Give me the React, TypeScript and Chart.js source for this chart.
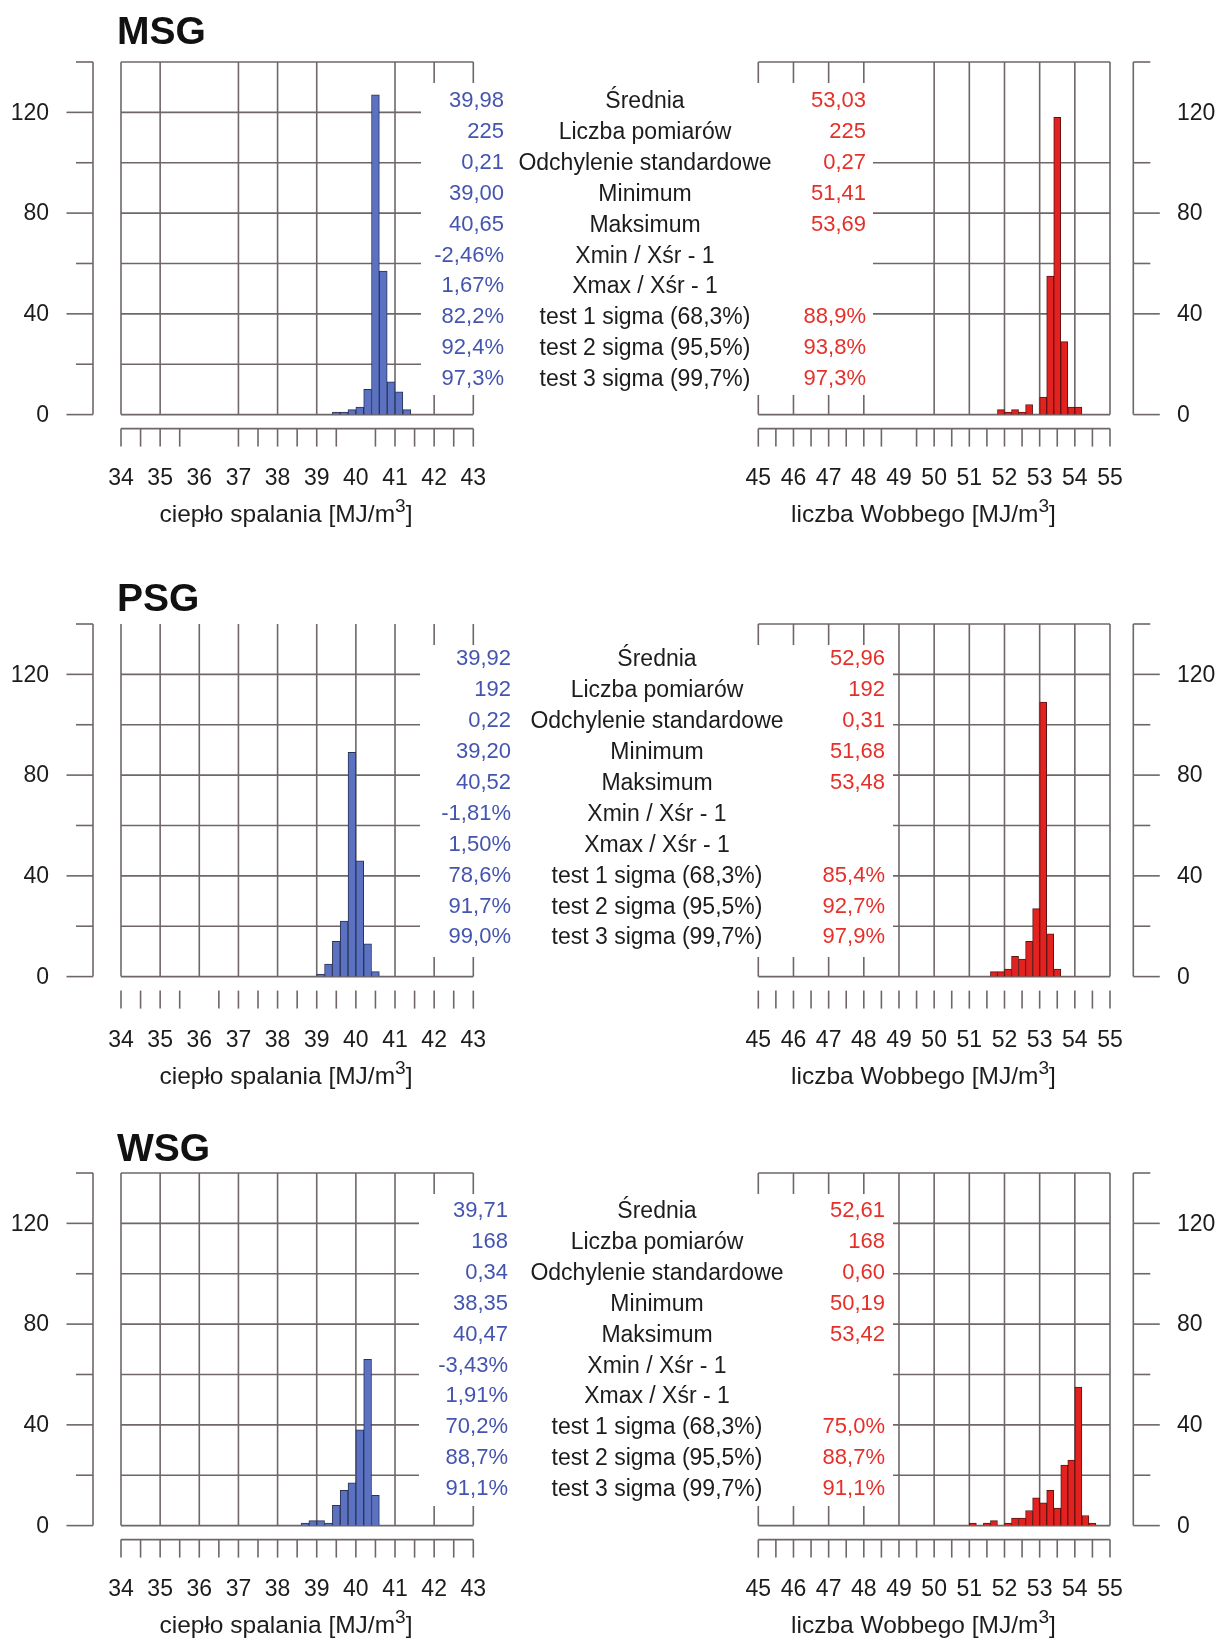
import React, { useEffect, useRef } from 'react';
import { Chart, registerables } from 'chart.js';

Chart.register(...registerables);

const FONT = '"Liberation Sans", Arial, Helvetica, sans-serif';

// ---------- data ----------
const heatTicks = [34, 35, 36, 37, 38, 39, 40, 41, 42, 43];
const wobbeTicks = [45, 46, 47, 48, 49, 50, 51, 52, 53, 54, 55];
const yGridValues = [0, 20, 40, 60, 80, 100, 120, 140];
const yTickLabels = [0, 40, 80, 120];

const msgHeatBins = [39.5, 39.7, 39.9, 40.1, 40.3, 40.5, 40.7, 40.9, 41.1, 41.3];
const msgHeatCounts = [1, 1, 2, 3, 10, 127, 57, 13, 9, 2];
const msgWobbeBins = [51.9, 52.1, 52.3, 52.5, 52.7, 52.9, 53.1, 53.3, 53.5, 53.7, 53.9, 54.1];
const msgWobbeCounts = [2, 1, 2, 1, 4, 0, 7, 55, 118, 29, 3, 3];

const psgHeatBins = [39.1, 39.3, 39.5, 39.7, 39.9, 40.1, 40.3, 40.5];
const psgHeatCounts = [1, 5, 14, 22, 89, 46, 13, 2];
const psgWobbeBins = [51.7, 51.9, 52.1, 52.3, 52.5, 52.7, 52.9, 53.1, 53.3, 53.5];
const psgWobbeCounts = [2, 2, 3, 8, 7, 14, 27, 109, 17, 3];

const wsgHeatBins = [38.7, 38.9, 39.1, 39.3, 39.5, 39.7, 39.9, 40.1, 40.3, 40.5];
const wsgHeatCounts = [1, 2, 2, 1, 8, 14, 17, 38, 66, 12];
const wsgWobbeBins = [51.1, 51.3, 51.5, 51.7, 51.9, 52.1, 52.3, 52.5, 52.7, 52.9, 53.1, 53.3, 53.5, 53.7, 53.9, 54.1, 54.3, 54.5];
const wsgWobbeCounts = [1, 0, 1, 2, 0, 1, 3, 3, 6, 11, 9, 14, 7, 24, 26, 55, 4, 1];

const statLabels = [
  'Średnia',
  'Liczba pomiarów',
  'Odchylenie standardowe',
  'Minimum',
  'Maksimum',
  'Xmin / Xśr - 1',
  'Xmax / Xśr - 1',
  'test 1 sigma (68,3%)',
  'test 2 sigma (95,5%)',
  'test 3 sigma (99,7%)',
];
const msgHeatStats = ['39,98', '225', '0,21', '39,00', '40,65', '-2,46%', '1,67%', '82,2%', '92,4%', '97,3%'];
const msgWobbeStats = ['53,03', '225', '0,27', '51,41', '53,69', '', '', '88,9%', '93,8%', '97,3%'];
const psgHeatStats = ['39,92', '192', '0,22', '39,20', '40,52', '-1,81%', '1,50%', '78,6%', '91,7%', '99,0%'];
const psgWobbeStats = ['52,96', '192', '0,31', '51,68', '53,48', '', '', '85,4%', '92,7%', '97,9%'];
const wsgHeatStats = ['39,71', '168', '0,34', '38,35', '40,47', '-3,43%', '1,91%', '70,2%', '88,7%', '91,1%'];
const wsgWobbeStats = ['52,61', '168', '0,60', '50,19', '53,42', '', '', '75,0%', '88,7%', '91,1%'];

const groupNames = ['MSG', 'PSG', 'WSG'];
const heatTitle = 'ciepło spalania [MJ/m';
const wobbeTitle = 'liczba Wobbego [MJ/m';

// ---------- styles / layout ----------
const GRID = '#6f6767';
const TEXT = '#1c1c1c';
const BLUE_FILL = '#5b72c3';
const BLUE_EDGE = '#2d3352';
const RED_FILL = '#e3211f';
const RED_EDGE = '#5e1414';
const BLUE_TEXT = '#4455b0';
const RED_TEXT = '#e5302a';

const BOX_H = 352.6;
const rows = [
  { titleY: 31, boxTop: 61.7, statY: 100, blueR: 504, labC: 645, redR: 866, coverL: 421, coverR: 873 },
  { titleY: 598, boxTop: 623.5, statY: 658.3, blueR: 511, labC: 657, redR: 885, coverL: 420, coverR: 893 },
  { titleY: 1148, boxTop: 1172.7, statY: 1210, blueR: 508, labC: 657, redR: 885, coverL: 419, coverR: 893 },
];

type Spec = {
  side: 'left' | 'right';
  row: number;
  ticks: number[];
  bins: number[];
  counts: number[];
  fill: string;
  edge: string;
  hideV: number[];
  hideXTick: number[];
  hideH: number[];
  noTop: boolean;
  noXLine: boolean;
};

const specs: Spec[] = [
  { side: 'left', row: 0, ticks: heatTicks, bins: msgHeatBins, counts: msgHeatCounts, fill: BLUE_FILL, edge: BLUE_EDGE, hideV: [36, 40], hideXTick: [36, 36.5, 40], hideH: [], noTop: false, noXLine: false },
  { side: 'right', row: 0, ticks: wobbeTicks, bins: msgWobbeBins, counts: msgWobbeCounts, fill: RED_FILL, edge: RED_EDGE, hideV: [49], hideXTick: [49], hideH: [20, 120], noTop: false, noXLine: false },
  { side: 'left', row: 1, ticks: heatTicks, bins: psgHeatBins, counts: psgHeatCounts, fill: BLUE_FILL, edge: BLUE_EDGE, hideV: [], hideXTick: [36], hideH: [], noTop: true, noXLine: true },
  { side: 'right', row: 1, ticks: wobbeTicks, bins: psgWobbeBins, counts: psgWobbeCounts, fill: RED_FILL, edge: RED_EDGE, hideV: [], hideXTick: [], hideH: [], noTop: false, noXLine: true },
  { side: 'left', row: 2, ticks: heatTicks, bins: wsgHeatBins, counts: wsgHeatCounts, fill: BLUE_FILL, edge: BLUE_EDGE, hideV: [], hideXTick: [], hideH: [], noTop: false, noXLine: false },
  { side: 'right', row: 2, ticks: wobbeTicks, bins: wsgWobbeBins, counts: wsgWobbeCounts, fill: RED_FILL, edge: RED_EDGE, hideV: [], hideXTick: [], hideH: [], noTop: false, noXLine: false },
];

function makeFrame(spec: Spec) {
  return {
    id: 'frame',
    beforeDatasetsDraw(chart: any) {
      const { ctx, chartArea: a, scales } = chart;
      const xs = scales.x;
      const ys = scales.y;
      const line = (x1: number, y1: number, x2: number, y2: number) => {
        ctx.beginPath();
        ctx.moveTo(x1, y1);
        ctx.lineTo(x2, y2);
        ctx.stroke();
      };
      ctx.save();
      ctx.strokeStyle = GRID;
      ctx.lineWidth = 1.6;
      const yTop = ys.getPixelForValue(140);
      const yBot = ys.getPixelForValue(0);
      const xFirst = xs.getPixelForValue(spec.ticks[0]);
      const xLast = xs.getPixelForValue(spec.ticks[spec.ticks.length - 1]);
      // vertical grid
      spec.ticks.forEach((v) => {
        if (spec.hideV.includes(v)) return;
        const px = xs.getPixelForValue(v);
        line(px, yTop, px, yBot);
      });
      // horizontal grid
      yGridValues.forEach((v) => {
        if (spec.hideH.includes(v)) return;
        if (v === 140 && spec.noTop) return;
        const py = ys.getPixelForValue(v);
        line(xFirst, py, xLast, py);
      });
      // offset y axis
      const isLeft = spec.side === 'left';
      const axX = isLeft ? xFirst - 28 : xLast + 23.3;
      const dir = isLeft ? -1 : 1;
      line(axX, yTop, axX, yBot);
      yGridValues.forEach((v) => {
        if (spec.hideH.includes(v)) return;
        const len = yTickLabels.includes(v) ? 26.5 : 17;
        const py = ys.getPixelForValue(v);
        line(axX, py, axX + dir * len, py);
      });
      ctx.fillStyle = TEXT;
      ctx.font = `23px ${FONT}`;
      ctx.textBaseline = 'middle';
      ctx.textAlign = isLeft ? 'right' : 'left';
      const lx = isLeft ? xFirst - 72 : xLast + 67;
      yTickLabels.forEach((v) => ctx.fillText(String(v), lx, ys.getPixelForValue(v) + 1));
      // offset x axis
      const axY = yBot + 14;
      const first = spec.ticks[0];
      const last = spec.ticks[spec.ticks.length - 1];
      if (!spec.noXLine) line(xFirst, axY, xLast, axY);
      for (let i = 0; first + i * 0.5 <= last; i++) {
        const v = first + i * 0.5;
        if (spec.hideXTick.includes(v)) continue;
        const px = xs.getPixelForValue(v);
        line(px, axY, px, axY + 18);
      }
      ctx.textAlign = 'center';
      spec.ticks.forEach((v) => ctx.fillText(String(v), xs.getPixelForValue(v), yBot + 64));
      ctx.restore();
    },
  };
}

function Hist({ spec }: { spec: Spec }) {
  const ref = useRef<HTMLCanvasElement>(null);
  const isLeft = spec.side === 'left';
  const boxTop = rows[spec.row].boxTop;
  const cLeft = isLeft ? 0 : 700;
  const cWidth = isLeft ? 530 : 520;
  const padTop = 12;
  const padBottom = 86;
  const cTop = boxTop - padTop;
  const cHeight = Math.round(BOX_H + padTop + padBottom);
  const boxL = isLeft ? 121 : 758.3;
  const boxR = isLeft ? 473.3 : 1110;
  const padLeft = boxL - cLeft;
  const padRight = cLeft + cWidth - boxR;
  const padBot = cHeight - padTop - BOX_H;

  useEffect(() => {
    const chart = new Chart(ref.current as HTMLCanvasElement, {
      type: 'bar',
      data: {
        datasets: [
          {
            data: spec.bins.map((b, i) => ({ x: b, y: spec.counts[i] })),
            backgroundColor: spec.fill,
            borderColor: spec.edge,
            borderWidth: 1,
            borderSkipped: 'start',
            barPercentage: 1,
            categoryPercentage: 1,
          } as any,
        ],
      },
      options: {
        responsive: false,
        animation: false,
        devicePixelRatio: 1,
        events: [],
        layout: { padding: { left: padLeft, right: padRight, top: padTop, bottom: padBot } },
        plugins: { legend: { display: false }, tooltip: { enabled: false } },
        scales: {
          x: {
            type: 'linear',
            offset: false,
            min: spec.ticks[0],
            max: spec.ticks[spec.ticks.length - 1],
            display: false,
            ticks: { stepSize: 1 },
          },
          y: { type: 'linear', min: 0, max: 140, display: false },
        },
      } as any,
      plugins: [makeFrame(spec)],
    });
    return () => chart.destroy();
  }, []);

  return (
    <canvas
      ref={ref}
      width={cWidth}
      height={cHeight}
      style={{ position: 'absolute', left: cLeft, top: cTop, width: cWidth, height: cHeight }}
    />
  );
}

const abs = (style: React.CSSProperties): React.CSSProperties => ({ position: 'absolute', fontFamily: FONT, whiteSpace: 'nowrap', ...style });

export default function App() {
  const heatStats = [msgHeatStats, psgHeatStats, wsgHeatStats];
  const wobbeStats = [msgWobbeStats, psgWobbeStats, wsgWobbeStats];
  const LH = 28;
  return (
    <div style={{ position: 'absolute', left: 0, top: 0, width: 1220, height: 1639, background: '#fff', overflow: 'hidden' }}>
      {specs.map((s, i) => (
        <Hist key={i} spec={s} />
      ))}
      {rows.map((r, ri) => {
        const boxBottom = r.boxTop + BOX_H;
        return (
          <React.Fragment key={ri}>
            <div style={abs({ left: 117, top: r.titleY - 24, fontSize: 39, fontWeight: 'bold', lineHeight: '48px', color: '#111' })}>
              {groupNames[ri]}
            </div>
            <div
              style={abs({
                left: r.coverL,
                top: r.boxTop + 21,
                width: r.coverR - r.coverL,
                height: BOX_H - 40,
                background: '#fff',
              })}
            />
            {statLabels.map((lab, k) => {
              const y = r.statY + k * 30.9;
              return (
                <React.Fragment key={k}>
                  <div style={abs({ left: r.blueR - 200, width: 200, top: y - LH / 2, lineHeight: LH + 'px', fontSize: 22, textAlign: 'right', color: BLUE_TEXT })}>
                    {heatStats[ri][k]}
                  </div>
                  <div style={abs({ left: r.labC - 200, width: 400, top: y - LH / 2, lineHeight: LH + 'px', fontSize: 23, textAlign: 'center', color: TEXT })}>
                    {lab}
                  </div>
                  <div style={abs({ left: r.redR - 200, width: 200, top: y - LH / 2, lineHeight: LH + 'px', fontSize: 22, textAlign: 'right', color: RED_TEXT })}>
                    {wobbeStats[ri][k]}
                  </div>
                </React.Fragment>
              );
            })}
            <div style={abs({ left: 286 - 200, width: 400, top: boxBottom + 99.5 - 15, lineHeight: '30px', fontSize: 24.5, textAlign: 'center', color: TEXT })}>
              {heatTitle}
              <span style={{ fontSize: '0.78em', position: 'relative', top: '-0.5em' }}>3</span>]
            </div>
            <div style={abs({ left: 923.5 - 200, width: 400, top: boxBottom + 99.5 - 15, lineHeight: '30px', fontSize: 24.5, textAlign: 'center', color: TEXT })}>
              {wobbeTitle}
              <span style={{ fontSize: '0.78em', position: 'relative', top: '-0.5em' }}>3</span>]
            </div>
          </React.Fragment>
        );
      })}
    </div>
  );
}
